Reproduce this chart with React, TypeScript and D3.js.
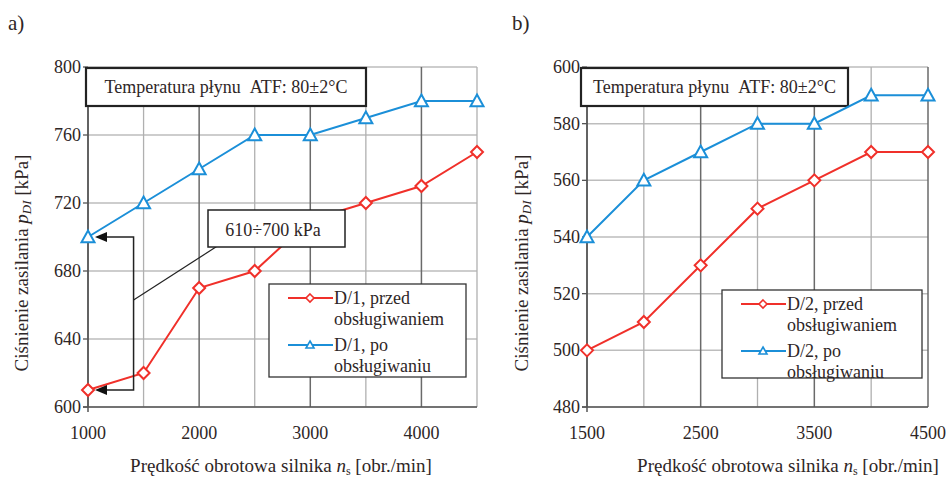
import React from 'react';
import * as d3 from 'd3';

// speeds [obr./min]
const speedsA = [1000, 1500, 2000, 2500, 3000, 3500, 4000, 4500];
const speedsB = [1500, 2000, 2500, 3000, 3500, 4000, 4500];

// pressures [kPa]
const beforeA = [610, 620, 670, 680, 710, 720, 730, 750];
const afterA = [700, 720, 740, 760, 760, 770, 780, 780];
const beforeB = [500, 510, 530, 550, 560, 570, 570];
const afterB = [540, 560, 570, 580, 580, 590, 590];

const xTicksA = [1000, 2000, 3000, 4000];
const yTicksA = [600, 640, 680, 720, 760, 800];
const xTicksB = [1500, 2500, 3500, 4500];
const yTicksB = [480, 500, 520, 540, 560, 580, 600];

const RED = '#f0302a';
const BLUE = '#1b8fd8';
const TXT = '#2e2626';
const SERIF = { fontFamily: "'Liberation Serif'" };

type PanelProps = {
  x0: number;
  x1: number;
  label: string;
  labelX: number;
  xDomain: [number, number];
  yDomain: [number, number];
  speeds: number[];
  before: number[];
  after: number[];
  xTicks: number[];
  yTicks: number[];
  gridStep: number;
  tempBox: [number, number];
  legend: { x: number; y: number; w: number; h: number; name: string };
  yLabelX: number;
  xLabelX: number;
  annotate?: boolean;
};

function Diamond({ cx, cy }: { cx: number; cy: number }) {
  const s = 6;
  return (
    <path
      d={`M${cx},${cy - s}L${cx + s},${cy}L${cx},${cy + s}L${cx - s},${cy}Z`}
      fill="#fff"
      stroke={RED}
      strokeWidth={2}
    />
  );
}

function Tri({ cx, cy, s = 6.5 }: { cx: number; cy: number; s?: number }) {
  return (
    <path
      d={`M${cx},${cy - s}L${cx + s},${cy + s * 0.8}L${cx - s},${cy + s * 0.8}Z`}
      fill="#fff"
      stroke={BLUE}
      strokeWidth={2}
    />
  );
}

function ArrowLeft({ tipX, yy }: { tipX: number; yy: number }) {
  return <path d={`M${tipX},${yy}L${tipX + 12},${yy - 5}L${tipX + 12},${yy + 5}Z`} fill="#111" />;
}

function Panel(p: PanelProps) {
  const top = 67;
  const bottom = 407;
  const x = d3.scaleLinear().domain(p.xDomain).range([p.x0, p.x1]);
  const y = d3.scaleLinear().domain(p.yDomain).range([bottom, top]);
  const gridX = d3.range(p.xDomain[0], p.xDomain[1] + 1, p.gridStep);
  const line = d3
    .line<number>()
    .x((_, i) => x(p.speeds[i]))
    .y((d) => y(d));

  const lg = p.legend;
  const yMid = 263;
  const bx = x(1410);

  return (
    <g>
      <text x={p.labelX} y={30} fontSize={21} fill={TXT} style={SERIF}>
        {p.label}
      </text>

      {/* horizontal grid */}
      {p.yTicks.map((t) => (
        <line key={'h' + t} x1={p.x0} x2={p.x1} y1={y(t)} y2={y(t)} stroke="#bdbdbd" strokeWidth={1.5} />
      ))}
      {/* vertical grid */}
      {gridX.map((t) => {
        const major = p.xTicks.includes(t);
        return (
          <line
            key={'v' + t}
            x1={x(t)}
            x2={x(t)}
            y1={top}
            y2={bottom}
            stroke={major ? '#6a6a6a' : '#b0b0b0'}
            strokeWidth={major ? 1.5 : 1.3}
          />
        );
      })}

      {/* axes */}
      <line x1={p.x0} x2={p.x0} y1={top} y2={bottom + 5} stroke="#555" strokeWidth={1.5} />
      <line x1={p.x0 - 5} x2={p.x1} y1={bottom} y2={bottom} stroke="#555" strokeWidth={1.5} />
      {p.yTicks.map((t) => (
        <line key={'yt' + t} x1={p.x0 - 5} x2={p.x0} y1={y(t)} y2={y(t)} stroke="#555" strokeWidth={1.3} />
      ))}

      {/* tick labels */}
      {p.yTicks.map((t) => (
        <text key={'yl' + t} x={p.x0 - 7} y={y(t) + 6} fontSize={18} textAnchor="end" fill={TXT} style={SERIF}>
          {t}
        </text>
      ))}
      {p.xTicks.map((t) => (
        <text key={'xl' + t} x={x(t)} y={439} fontSize={18} textAnchor="middle" fill={TXT} style={SERIF}>
          {t}
        </text>
      ))}

      {/* axis titles */}
      <text
        transform={`translate(${p.yLabelX},${yMid}) rotate(-90)`}
        fontSize={19}
        textAnchor="middle"
        fill={TXT}
        style={SERIF}
      >
        Ciśnienie zasilania <tspan fontStyle="italic">p</tspan>
        <tspan fontStyle="italic" fontSize={13} dy={3}>DI</tspan>
        <tspan dy={-3}> [kPa]</tspan>
      </text>
      <text x={p.xLabelX} y={472} fontSize={19} textAnchor="middle" fill={TXT} style={SERIF}>
        Prędkość obrotowa silnika <tspan fontStyle="italic">n</tspan>
        <tspan fontSize={12} dy={3}>s</tspan>
        <tspan dy={-3}> [obr./min]</tspan>
      </text>

      {/* temperature box */}
      <rect x={p.tempBox[0]} y={68} width={p.tempBox[1] - p.tempBox[0]} height={38} fill="#fff" stroke="#222" strokeWidth={2.2} />
      <text x={(p.tempBox[0] + p.tempBox[1]) / 2} y={93} fontSize={18} textAnchor="middle" fill={TXT} style={SERIF}>
        Temperatura płynu{'\u00a0\u00a0'}ATF: 80±2°C
      </text>

      {/* series */}
      <path d={line(p.after) || ''} fill="none" stroke={BLUE} strokeWidth={2} />
      <path d={line(p.before) || ''} fill="none" stroke={RED} strokeWidth={2} />
      {p.after.map((v, i) => (
        <Tri key={'a' + i} cx={x(p.speeds[i])} cy={y(v)} />
      ))}
      {p.before.map((v, i) => (
        <Diamond key={'b' + i} cx={x(p.speeds[i])} cy={y(v)} />
      ))}

      {/* annotation */}
      {p.annotate && (
        <g>
          <polyline
            points={`${x(1000) + 18},${y(700)} ${bx},${y(700)} ${bx},${y(610)} ${x(1000) + 18},${y(610)}`}
            fill="none"
            stroke="#222"
            strokeWidth={1.5}
          />
          <ArrowLeft tipX={x(1000) + 7} yy={y(700)} />
          <ArrowLeft tipX={x(1000) + 7} yy={y(610)} />
          <line x1={bx} y1={y(663)} x2={x(2220)} y2={y(697)} stroke="#222" strokeWidth={1.2} />
          <rect x={208} y={210} width={137} height={37} fill="#fff" stroke="#222" strokeWidth={1.5} />
          <text x={273} y={236} fontSize={18} textAnchor="middle" fill={TXT} style={SERIF}>
            610÷700 kPa
          </text>
        </g>
      )}

      {/* legend */}
      <rect x={lg.x} y={lg.y} width={lg.w} height={lg.h} fill="#fff" stroke="#333" strokeWidth={1.3} />
      <line x1={lg.x + 19} x2={lg.x + 64} y1={lg.y + 14} y2={lg.y + 14} stroke={RED} strokeWidth={2} />
      <path
        d={`M${lg.x + 41},${lg.y + 10}L${lg.x + 45},${lg.y + 14}L${lg.x + 41},${lg.y + 18}L${lg.x + 37},${lg.y + 14}Z`}
        fill="#fff"
        stroke={RED}
        strokeWidth={1.6}
      />
      <line x1={lg.x + 19} x2={lg.x + 64} y1={lg.y + 61} y2={lg.y + 61} stroke={BLUE} strokeWidth={2} />
      <path
        d={`M${lg.x + 41},${lg.y + 57}L${lg.x + 45},${lg.y + 64}L${lg.x + 37},${lg.y + 64}Z`}
        fill="#fff"
        stroke={BLUE}
        strokeWidth={1.6}
      />
      <text x={lg.x + 65} y={lg.y + 20} fontSize={18} fill={TXT} style={SERIF}>
        {lg.name}, przed
      </text>
      <text x={lg.x + 65} y={lg.y + 41} fontSize={18} fill={TXT} style={SERIF}>
        obsługiwaniem
      </text>
      <text x={lg.x + 65} y={lg.y + 67} fontSize={18} fill={TXT} style={SERIF}>
        {lg.name}, po
      </text>
      <text x={lg.x + 65} y={lg.y + 88} fontSize={18} fill={TXT} style={SERIF}>
        obsługiwaniu
      </text>
    </g>
  );
}

export default function App() {
  return (
    <svg
      width={950}
      height={477}
      style={{ position: 'absolute', left: 0, top: 0, background: '#fff', fontFamily: "'Liberation Serif'" }}
    >
      <rect width={950} height={477} fill="#fff" />
      <Panel
        x0={88}
        x1={477}
        label="a)"
        labelX={8}
        xDomain={[1000, 4500]}
        yDomain={[600, 800]}
        speeds={speedsA}
        before={beforeA}
        after={afterA}
        xTicks={xTicksA}
        yTicks={yTicksA}
        gridStep={500}
        tempBox={[86, 366]}
        legend={{ x: 269, y: 284, w: 197, h: 93, name: 'D/1' }}
        yLabelX={28}
        xLabelX={281}
        annotate
      />
      <Panel
        x0={587}
        x1={928}
        label="b)"
        labelX={512}
        xDomain={[1500, 4500]}
        yDomain={[480, 600]}
        speeds={speedsB}
        before={beforeB}
        after={afterB}
        xTicks={xTicksB}
        yTicks={yTicksB}
        gridStep={500}
        tempBox={[581, 848]}
        legend={{ x: 722, y: 290, w: 200, h: 88, name: 'D/2' }}
        yLabelX={528}
        xLabelX={788}
      />
    </svg>
  );
}
